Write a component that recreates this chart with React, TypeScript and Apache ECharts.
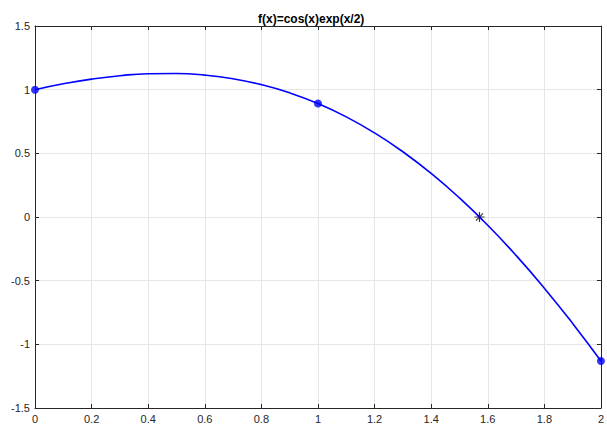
import React, { useEffect, useRef } from "react";
import * as echarts from "echarts";

const xs = [0, 0.1, 0.2, 0.3, 0.4, 0.5, 0.6, 0.7, 0.8, 0.9, 1.0, 1.1, 1.2, 1.3, 1.4, 1.5, 1.6, 1.7, 1.8, 1.9, 2.0];
const ys = [1.0, 1.046, 1.0831, 1.1099, 1.125, 1.1268, 1.1141, 1.0854, 1.0394, 0.9749, 0.8908, 0.7862, 0.6603, 0.5124, 0.3423, 0.1497, -0.065, -0.3014, -0.5588, -0.8359, -1.1312];
const dotPoints: [number, number][] = [[0, 1.0], [1, 0.8908], [2, -1.1312]];
const starPoint: [number, number][] = [[1.5708, 0]];
const titleText = "f(x)=cos(x)exp(x/2)";

const FONT = "Liberation Sans";
const AXIS_COLOR = "#262626";
const GRID_COLOR = "#e6e6e6";

export default function App() {
  const ref = useRef<HTMLDivElement>(null);
  useEffect(() => {
    if (!ref.current) return;
    const chart = echarts.init(ref.current, null, { renderer: "svg" });
    const baseAxis = {
      axisLine: { show: true, onZero: false, lineStyle: { color: AXIS_COLOR, width: 1 } },
      axisTick: { show: true, inside: true, length: 4, lineStyle: { color: AXIS_COLOR } },
      axisLabel: { color: AXIS_COLOR, fontFamily: FONT, fontSize: 11 },
    };
    chart.setOption({
      animation: false,
      title: {
        text: titleText,
        left: 258,
        top: 8,
        padding: [5, 0, 5, 0],
        textStyle: { fontFamily: FONT, fontSize: 12, fontWeight: "bold", color: "#000" },
      },
      grid: { left: 35, right: 2, top: 26, bottom: 15, containLabel: false },
      xAxis: [
        {
          ...baseAxis,
          type: "value",
          min: 0,
          max: 2,
          interval: 0.2,
          position: "bottom",
          axisLabel: { ...baseAxis.axisLabel, margin: 5 },
          splitLine: { show: true, lineStyle: { color: GRID_COLOR, width: 1 } },
        },
        {
          ...baseAxis,
          type: "value",
          min: 0,
          max: 2,
          interval: 0.2,
          position: "top",
          axisLabel: { show: false },
          splitLine: { show: false },
        },
      ],
      yAxis: [
        {
          ...baseAxis,
          type: "value",
          min: -1.5,
          max: 1.5,
          interval: 0.5,
          position: "left",
          axisLabel: { ...baseAxis.axisLabel, margin: 5 },
          splitLine: { show: true, lineStyle: { color: GRID_COLOR, width: 1 } },
        },
        {
          ...baseAxis,
          type: "value",
          min: -1.5,
          max: 1.5,
          interval: 0.5,
          position: "right",
          axisLabel: { show: false },
          splitLine: { show: false },
        },
      ],
      series: [
        {
          type: "line",
          data: xs.map((x, i) => [x, ys[i]]),
          smooth: true,
          showSymbol: false,
          lineStyle: { color: "#0000ff", width: 1.6 },
          clip: false,
        },
        {
          type: "scatter",
          data: dotPoints,
          symbol: "circle",
          symbolSize: 8,
          itemStyle: { color: "#0000ff" },
          clip: false,
        },
        {
          type: "scatter",
          data: starPoint,
          symbol:
            "path://M0,-1L0,1M-1,0L1,0M-0.71,-0.71L0.71,0.71M-0.71,0.71L0.71,-0.71",
          symbolSize: 10,
          itemStyle: { color: "none", borderColor: "#000", borderWidth: 1.2 },
          clip: false,
        },
      ],
    });
    return () => chart.dispose();
  }, []);
  return (
    <div
      ref={ref}
      style={{ position: "absolute", left: 0, top: 0, width: 607, height: 424, background: "#fff" }}
    />
  );
}
